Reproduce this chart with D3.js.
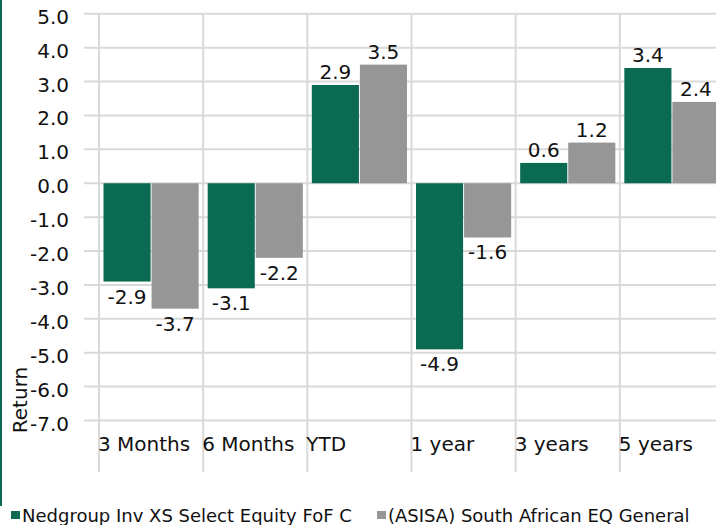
<!DOCTYPE html>
<meta charset="utf-8">
<style>
body {
  margin: 0;
  width: 716px;
  height: 525px;
  overflow: hidden;
  background: #fff;
  font-family: 'DejaVu Sans', Verdana, sans-serif;
}
svg { display: block; }
.grid line { stroke: #d9d9d9; stroke-width: 2px; }
.tick-label { font-size: 20px; fill: #111; }
.val { font-size: 20px; fill: #111; text-anchor: middle; }
.legend text { font-size: 18px; fill: #111; }
</style>
<body>
<script src="https://cdnjs.cloudflare.com/ajax/libs/d3/7.8.5/d3.min.js"></script>
<script>

var categories = ["3 Months", "6 Months", "YTD", "1 year", "3 years", "5 years"];
var seriesNames = ["Nedgroup Inv XS Select Equity FoF C", "(ASISA) South African EQ General"];
var fundValues = [-2.9, -3.1, 2.9, -4.9, 0.6, 3.4];
var sectorValues = [-3.7, -2.2, 3.5, -1.6, 1.2, 2.4];
var yTicks = [5, 4, 3, 2, 1, 0, -1, -2, -3, -4, -5, -6, -7];
var colors = ["#0a6a52", "#969696"];

var width = 716, height = 525;

var svg = d3.select("body").append("svg")
    .attr("width", width)
    .attr("height", height);

// left edge accent line
svg.append("rect")
    .attr("x", 0).attr("y", 0)
    .attr("width", 2).attr("height", 506)
    .attr("fill", "#0a6a52");

var y = d3.scaleLinear().domain([-7, 5]).range([420.5, 13.8]);
var x0 = d3.scaleBand().domain(categories).range([99, 724]);
var x1 = d3.scaleBand().domain([0, 1])
    .range([4.5, x0.bandwidth() - 4.5])
    .paddingInner(0.02);

var data = categories.map(function(c, i) {
    return { cat: c, vals: [fundValues[i], sectorValues[i]] };
});

var fmt = function(d) { return d3.format(".1f")(d).replace("−", "-"); };

// grid
var grid = svg.append("g").attr("class", "grid");
grid.selectAll("line.h")
    .data(yTicks)
    .enter().append("line")
    .attr("class", "h")
    .attr("x1", 84).attr("x2", width)
    .attr("y1", function(d) { return y(d); })
    .attr("y2", function(d) { return y(d); });

grid.selectAll("line.v")
    .data(categories)
    .enter().append("line")
    .attr("class", "v")
    .attr("x1", function(d) { return x0(d); })
    .attr("x2", function(d) { return x0(d); })
    .attr("y1", y(5))
    .attr("y2", 472);

// y labels
svg.append("g").selectAll("text")
    .data(yTicks)
    .enter().append("text")
    .attr("class", "tick-label")
    .attr("x", 69)
    .attr("y", function(d) { return y(d); })
    .attr("dy", "0.5em")
    .attr("text-anchor", "end")
    .text(fmt);

// y axis title
svg.append("text")
    .attr("class", "tick-label")
    .attr("transform", "translate(27,400) rotate(-90)")
    .attr("text-anchor", "middle")
    .text("Return");

// category labels
svg.append("g").selectAll("text")
    .data(categories)
    .enter().append("text")
    .attr("class", "tick-label")
    .attr("x", function(d) { return x0(d) - 1; })
    .attr("y", 451)
    .text(function(d) { return d; });

// bars
var groups = svg.append("g").selectAll("g")
    .data(data)
    .enter().append("g")
    .attr("transform", function(d) { return "translate(" + x0(d.cat) + ",0)"; });

groups.selectAll("rect")
    .data(function(d) { return d.vals; })
    .enter().append("rect")
    .attr("x", function(d, i) { return x1(i); })
    .attr("width", x1.bandwidth())
    .attr("y", function(d) { return y(Math.max(0, d)); })
    .attr("height", function(d) { return Math.abs(y(d) - y(0)); })
    .attr("fill", function(d, i) { return colors[i]; });

groups.selectAll("text")
    .data(function(d) { return d.vals; })
    .enter().append("text")
    .attr("class", "val")
    .attr("x", function(d, i) { return x1(i) + x1.bandwidth() / 2; })
    .attr("y", function(d) { return d >= 0 ? y(d) - 6 : y(d) + 22; })
    .text(fmt);

// legend
var legend = svg.append("g").attr("class", "legend");
var legendX = [11, 377];
seriesNames.forEach(function(name, i) {
    legend.append("rect")
        .attr("x", legendX[i]).attr("y", 511)
        .attr("width", 9).attr("height", 8)
        .attr("fill", colors[i]);
    legend.append("text")
        .attr("x", legendX[i] + 11)
        .attr("y", 522)
        .text(name);
});

</script>
</body>
